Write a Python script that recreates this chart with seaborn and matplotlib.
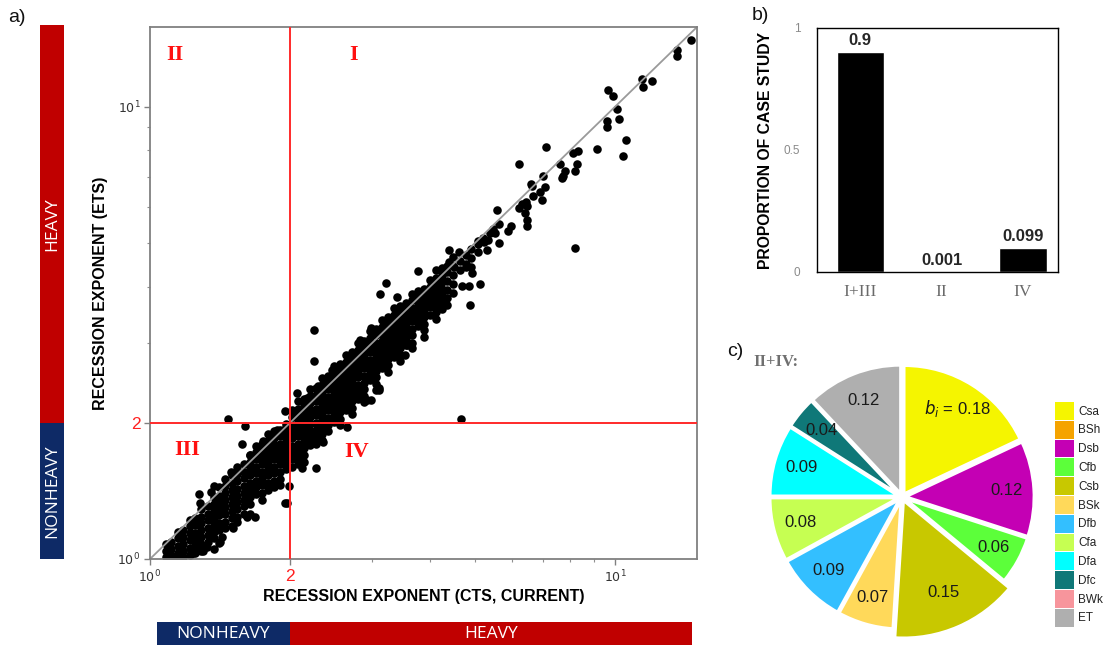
import numpy as np
import pandas as pd
import matplotlib
matplotlib.use("Agg")
import matplotlib.pyplot as plt
import seaborn as sns
from matplotlib.patches import Patch
from matplotlib.ticker import FixedLocator, NullFormatter, FixedFormatter

# ---------------- data ----------------
# dense cloud, read column by column: (CTS exponent, [ETS exponents])
band_cols = [
    (1.08, [1.08, 1.04, 1.01]),
    (1.11, [1.09, 1.05, 1.02]),
    (1.15, [1.15, 1.11, 1.07, 1.03, 1.00]),
    (1.18, [1.16, 1.12, 1.08, 1.04, 1.01]),
    (1.22, [1.22, 1.18, 1.14, 1.10, 1.06, 1.02]),
    (1.25, [1.23, 1.19, 1.14, 1.10, 1.07, 1.03]),
    (1.29, [1.29, 1.24, 1.20, 1.16, 1.12, 1.08, 1.04]),
    (1.33, [1.31, 1.26, 1.22, 1.17, 1.13, 1.09]),
    (1.37, [1.37, 1.32, 1.28, 1.23, 1.19, 1.15, 1.11]),
    (1.41, [1.44, 1.38, 1.34, 1.29, 1.25, 1.20, 1.16]),
    (1.45, [1.50, 1.45, 1.40, 1.35, 1.30, 1.26, 1.21, 1.17]),
    (1.50, [1.53, 1.47, 1.42, 1.37, 1.32, 1.28, 1.23, 1.18]),
    (1.54, [1.60, 1.54, 1.49, 1.43, 1.38, 1.34, 1.29, 1.24]),
    (1.59, [1.62, 1.56, 1.51, 1.45, 1.40, 1.35, 1.31, 1.26]),
    (1.64, [1.70, 1.64, 1.58, 1.53, 1.47, 1.42, 1.37, 1.32, 1.26]),
    (1.69, [1.78, 1.72, 1.66, 1.60, 1.55, 1.49, 1.44, 1.39]),
    (1.74, [1.80, 1.74, 1.68, 1.62, 1.56, 1.51, 1.46, 1.40, 1.35]),
    (1.79, [1.89, 1.82, 1.76, 1.70, 1.64, 1.58, 1.53, 1.47, 1.42]),
    (1.85, [1.92, 1.85, 1.79, 1.72, 1.66, 1.60, 1.55, 1.49, 1.44]),
    (1.90, [1.93, 1.87, 1.80, 1.74, 1.68, 1.62, 1.56, 1.50, 1.46]),
    (1.96, [1.99, 1.96, 1.89, 1.82, 1.76, 1.70, 1.64, 1.58]),
    (2.02, [2.13, 2.06, 1.98, 1.91, 1.85, 1.78, 1.72, 1.66, 1.60]),
    (2.08, [2.23, 2.15, 2.08, 2.01, 1.94, 1.87, 1.80, 1.74, 1.68, 1.62]),
    (2.14, [2.26, 2.18, 2.10, 2.03, 1.96, 1.89, 1.82, 1.76, 1.70, 1.64]),
    (2.21, [2.37, 2.29, 2.24, 2.21, 2.13, 2.06, 1.99, 1.92, 1.85, 1.79]),
    (2.27, [2.39, 2.31, 2.23, 2.15, 2.08, 2.00, 1.93, 1.87, 1.80]),
    (2.34, [2.51, 2.42, 2.34, 2.26, 2.18, 2.10, 2.03, 1.96, 1.89, 1.83]),
    (2.41, [2.54, 2.45, 2.37, 2.28, 2.21, 2.13, 2.05, 1.98, 1.92]),
    (2.49, [2.67, 2.58, 2.49, 2.40, 2.32, 2.24, 2.16, 2.08, 2.01]),
    (2.56, [2.70, 2.61, 2.51, 2.43, 2.34, 2.26, 2.18, 2.11, 2.04, 1.98]),
    (2.64, [2.83, 2.73, 2.68, 2.64, 2.55, 2.46, 2.37, 2.29, 2.21, 2.13]),
    (2.72, [2.87, 2.77, 2.67, 2.58, 2.49, 2.40, 2.32, 2.24, 2.16, 2.09]),
    (2.80, [3.01, 2.90, 2.80, 2.70, 2.61, 2.52, 2.43, 2.34, 2.26]),
    (2.88, [3.04, 2.93, 2.83, 2.73, 2.64, 2.54, 2.45, 2.37, 2.29, 2.22]),
    (2.97, [3.19, 3.08, 3.01, 2.97, 2.87, 2.76, 2.67, 2.58, 2.49]),
    (3.06, [3.23, 3.12, 3.00, 2.90, 2.80, 2.70, 2.61, 2.52, 2.44, 2.36]),
    (3.15, [3.38, 3.26, 3.15, 3.04, 2.93, 2.83, 2.73, 2.64]),
    (3.25, [3.43, 3.31, 3.19, 3.08, 2.97, 2.87, 2.77, 2.68, 2.59]),
    (3.34, [3.59, 3.46, 3.34, 3.22, 3.11, 3.00, 2.90, 2.80]),
    (3.44, [3.63, 3.50, 3.38, 3.26, 3.15, 3.04, 2.93, 2.83, 2.74]),
    (3.55, [3.68, 3.55, 3.43, 3.30, 3.19, 3.08, 2.97]),
    (3.66, [3.86, 3.73, 3.59, 3.47, 3.35, 3.23, 3.12, 3.01, 2.92]),
    (3.77, [3.91, 3.77, 3.64, 3.51, 3.39, 3.27]),
    (3.88, [3.95, 3.81, 3.68, 3.55, 3.43, 3.31, 3.20, 3.10]),
    (4.00, [4.14, 4.00, 3.86, 3.72, 3.60, 3.47]),
    (4.12, [4.35, 4.19, 4.05, 3.91, 3.77, 3.64, 3.51, 3.40]),
    (4.24, [4.39, 4.24, 4.09, 3.95, 3.81, 3.68, 3.57]),
    (4.36, [4.44, 4.30, 4.12, 3.93, 3.78, 3.65]),
    (4.49, [4.65, 4.45, 4.25, 4.05, 3.88]),
    (4.63, [4.55, 4.35]),
    (4.77, [4.70, 4.50]),
    (4.91, [4.85, 4.62]),
    (5.06, [4.98, 4.78]),
    (5.21, [5.12]),
    (5.37, [5.25]),
]

# scattered points read individually (CTS, ETS)
outlier_points = [
    (14.58, 14.07), (13.6, 13.37), (13.6, 12.97), (11.42, 11.52), (12.02, 11.42),
    (11.5, 11.06), (9.67, 10.87), (9.89, 10.57), (10.08, 9.90), (9.60, 9.28),
    (9.60, 9.02), (10.19, 9.39), (10.58, 8.45), (10.42, 7.76), (9.15, 8.06),
    (7.10, 8.13), (6.22, 7.47), (8.11, 7.90), (8.33, 7.99), (7.62, 7.48),
    (8.28, 7.47), (8.20, 7.19), (7.81, 7.19), (7.74, 7.01), (7.70, 6.97),
    (7.00, 7.01), (7.06, 6.63), (6.90, 6.46), (6.97, 6.22), (6.61, 6.76),
    (6.64, 6.67), (6.67, 6.33), (6.43, 6.17), (6.47, 6.03), (6.32, 6.08),
    (6.40, 5.82), (6.47, 5.63), (6.45, 5.46), (6.22, 5.98), (5.58, 5.92),
    (5.64, 5.51), (5.98, 5.44), (5.88, 5.31), (5.47, 5.36), (5.52, 5.25),
    (5.62, 4.99), (5.33, 5.08), (5.30, 4.83), (5.23, 5.03), (5.07, 5.05),
    (4.89, 4.43), (4.93, 4.29), (4.39, 4.81), (4.62, 4.78), (4.77, 4.43),
    (4.50, 4.43), (4.39, 4.54), (3.76, 4.34), (5.12, 4.05), (4.69, 4.02),
    (4.85, 4.02), (4.87, 3.65), (8.21, 4.87), (4.67, 2.04),
    (3.21, 4.07), (3.13, 3.85), (3.40, 3.80), (2.25, 3.21), (2.25, 2.74),
    (2.07, 2.33), (1.95, 2.12), (1.47, 2.04), (1.60, 1.97), (1.58, 1.80),
    (1.275, 1.39), (1.35, 1.41), (1.95, 1.33), (1.97, 1.33), (1.99, 1.45),
    (2.27, 1.59), (2.12, 1.59), (2.65, 1.96), (2.55, 2.01), (2.36, 1.81),
    (2.27, 1.81), (2.98, 2.25), (3.10, 2.39), (3.54, 2.83), (3.57, 2.97),
    (1.68, 1.24), (1.415, 1.09), (1.37, 1.05), (1.30, 1.04), (1.24, 1.03),
    (1.18, 1.04), (1.75, 1.82), (2.79, 2.33), (2.93, 2.25), (3.10, 2.36),
    (1.404, 1.087), (1.325, 1.065), (1.427, 1.12), (1.51, 1.17), (1.615, 1.24),
    (1.54, 1.21), (1.10, 1.01), (1.13, 1.00), (1.16, 1.02),
    (2.46, 2.62), (2.70, 2.80), (2.30, 2.41), (2.18, 2.27), (1.875, 1.93),
    (1.64, 1.70), (1.49, 1.56), (1.37, 1.45), (1.28, 1.33), (2.98, 3.24),
    (2.83, 3.05), (3.29, 3.35), (3.54, 3.61), (3.88, 3.80),
]

bar_cats = ["I+III", "II", "IV"]
bar_vals = [0.9, 0.001, 0.099]
bar_text = ["0.9", "0.001", "0.099"]

climate = ["Csa", "BSh", "Dsb", "Cfb", "Csb", "BSk", "Dfb", "Cfa", "Dfa", "Dfc", "BWk", "ET"]
climate_share = [0.18, 0.0, 0.12, 0.06, 0.15, 0.07, 0.09, 0.08, 0.09, 0.04, 0.0, 0.12]
climate_text = [r"$b_i$ = 0.18", "", "0.12", "0.06", "0.15", "0.07", "0.09", "0.08", "0.09", "0.04", "", "0.12"]
climate_colors = ["#F5F500", "#F5A300", "#C400B4", "#5CFF3A", "#C8C800", "#FFD95A",
                  "#33BFFF", "#C6FF52", "#00FFFF", "#0F7878", "#F7959C", "#AFAFAF"]

# ---------------- style ----------------
sns.set_theme(style="white")
plt.rcParams['font.family'] = ['Liberation Sans', 'DejaVu Sans']
plt.rcParams['mathtext.fontset'] = 'dejavusans'

W, H = 1103, 647
fig = plt.figure(figsize=(W / 100, H / 100), dpi=100)
fig.patch.set_facecolor("white")

RED_STRIP = "#C00000"
NAVY = "#0E2A66"
LINE_RED = "#FF2A2A"

# ---------------- a) scatter ----------------
xs, ys = [], []
for cx, col in band_cols:
    for cy in col:
        xs.append(cx)
        ys.append(cy)
for px, py in outlier_points:
    xs.append(px)
    ys.append(py)
df = pd.DataFrame({"cts": xs, "ets": ys})

ax = fig.add_axes([150 / W, 1 - 559 / H, 547 / W, 532 / H])
ax.set_xscale("log")
ax.set_yscale("log")
sns.scatterplot(data=df, x="cts", y="ets", color="black", s=38, linewidth=0,
                ax=ax, zorder=2, legend=False)
ax.axline((1, 1), (10, 10), color="#9a9a9a", lw=1.3, zorder=2.5)
ax.axvline(2, color=LINE_RED, lw=1.4, zorder=3)
ax.axhline(2, color=LINE_RED, lw=1.4, zorder=3)
ax.set_xlim(1, 15)
ax.set_ylim(1, 15)

for axis in (ax.xaxis, ax.yaxis):
    axis.set_major_locator(FixedLocator([1, 2, 10]))
    axis.set_major_formatter(FixedFormatter([r"$10^0$", "2", r"$10^1$"]))
    axis.set_minor_locator(FixedLocator([3, 4, 5, 6, 7, 8, 9]))
    axis.set_minor_formatter(NullFormatter())
ax.tick_params(which="major", length=4, width=1, color="#808080", labelsize=9,
               labelcolor="#333333", pad=3, direction="out", bottom=True, left=True)
ax.tick_params(which="minor", length=2.5, width=0.8, color="#909090", direction="out",
               bottom=True, left=True)
for lab in ax.get_xticklabels() + ax.get_yticklabels():
    if lab.get_text() == "2":
        lab.set_color("#FF2020")
        lab.set_fontsize(12.5)
for s in ax.spines.values():
    s.set_color("#808080")
    s.set_linewidth(1.3)

ax.set_xlabel("RECESSION EXPONENT (CTS, CURRENT)", fontsize=11.5, fontweight="bold", color="black")
ax.set_ylabel("RECESSION EXPONENT (ETS)", fontsize=11.5, fontweight="bold", color="black")
ax.xaxis.set_label_coords(0.5, -(589 - 559) / 532)
ax.yaxis.set_label_coords(-(150 - 108) / 547, 0.5)

qfont = dict(family=["Liberation Serif", "DejaVu Serif"], fontweight="bold", fontsize=16,
             color="#FF1010", ha="center", va="center", transform=ax.transAxes)
ax.text(25 / 547, 504 / 532, "II", **qfont)
ax.text(204 / 547, 504 / 532, "I", **qfont)
ax.text(37 / 547, 109 / 532, "III", **qfont)
ax.text(207 / 547, 107 / 532, "IV", **qfont)

# left strip (shares ETS scale)
axl = fig.add_axes([40 / W, 1 - 559 / H, 24 / W, 534 / H])
axl.set_yscale("log")
lo, hi = 1.0, 15.16
axl.set_ylim(lo, hi)
axl.set_xlim(0, 1)
axl.axhspan(lo, 2, color=NAVY, lw=0)
axl.axhspan(2, hi, color=RED_STRIP, lw=0)
axl.axis("off")
sfont = dict(family=["Open Sans", "DejaVu Sans"], fontsize=12.5, color="white",
             ha="center", va="center")
axl.text(0.5, np.sqrt(lo * 2), "NONHEAVY", rotation=90, **sfont)
axl.text(0.5, np.sqrt(2 * hi), "HEAVY", rotation=90, **sfont)

# bottom strip (shares CTS scale)
axbt = fig.add_axes([157 / W, 1 - 645 / H, 535 / W, 23 / H])
axbt.set_xscale("log")
blo, bhi = 1.035, 14.7
axbt.set_xlim(blo, bhi)
axbt.set_ylim(0, 1)
axbt.axvspan(blo, 2, color=NAVY, lw=0)
axbt.axvspan(2, bhi, color=RED_STRIP, lw=0)
axbt.axis("off")
axbt.text(np.sqrt(blo * 2), 0.5, "NONHEAVY", **sfont)
axbt.text(np.sqrt(2 * bhi), 0.5, "HEAVY", **sfont)

fig.text(8 / W, 1 - 18 / H, "a)", fontsize=14, va="center", ha="left", color="#111111")

# ---------------- b) bar ----------------
axb = fig.add_axes([817 / W, 1 - 272 / H, 241 / W, 244 / H])
sns.barplot(x=bar_cats, y=bar_vals, color="black", saturation=1, width=0.58, ax=axb)
axb.set_xlim(-0.53, 2.43)
axb.set_ylim(0, 1)
axb.set_yticks([0, 0.5, 1])
axb.set_yticklabels(["0", "0.5", "1"])
axb.bar_label(axb.containers[0], labels=bar_text, padding=3, fontweight="bold", fontsize=12)
axb.tick_params(axis="y", length=0, labelsize=8.5, labelcolor="#8a8a8a", pad=12)
axb.tick_params(axis="x", length=0, pad=9)
for lab in axb.get_xticklabels():
    lab.set_family(["Liberation Serif", "DejaVu Serif"])
    lab.set_fontsize(12.5)
    lab.set_color("#6a6a6a")
for s in axb.spines.values():
    s.set_color("black")
    s.set_linewidth(1.0)
axb.set_ylabel("PROPORTION OF CASE STUDY", fontsize=11.3, fontweight="bold", color="black")
axb.yaxis.set_label_coords(-(817 - 773) / 241, 0.5)
fig.text(752 / W, 1 - 15 / H, "b)", fontsize=14, va="center", ha="left", color="#111111")

# ---------------- c) pie ----------------
axp = fig.add_axes([752 / W, 1 - 647 / H, 300 / W, 300 / H])
nz = [i for i, v in enumerate(climate_share) if v > 0]
wedges, _ = axp.pie([climate_share[i] for i in nz],
                    colors=[climate_colors[i] for i in nz],
                    startangle=90, counterclock=False, radius=0.97,
                    explode=[0.03] * len(nz),
                    wedgeprops=dict(edgecolor="white", linewidth=2))
for w, i in zip(wedges, nz):
    if climate[i] == "Csb":
        w.set_radius(1.04)
    ang = np.deg2rad((w.theta1 + w.theta2) / 2)
    cx, cy = w.center
    axp.text(cx + 0.76 * np.cos(ang), cy + 0.76 * np.sin(ang), climate_text[i],
             ha="center", va="center", fontsize=12, color="#1a1a1a")
lim = 150 / 132
axp.set_xlim(-lim, lim)
axp.set_ylim(-lim, lim)
axp.set_aspect("equal")
axp.axis("off")

handles = [Patch(facecolor=c, edgecolor="none") for c in climate_colors]
fig.legend(handles, climate, loc="upper left", bbox_to_anchor=(1055 / W, 1 - 402 / H),
           frameon=False, fontsize=8.5, handlelength=1.6, handleheight=1.95,
           labelspacing=0.08, handletextpad=0.35, borderpad=0, borderaxespad=0,
           labelcolor="#222222")

fig.text(727 / W, 1 - 352 / H, "c)", fontsize=14, va="center", ha="left", color="#111111")
fig.text(753 / W, 1 - 362 / H, "II+IV:", family=["Liberation Serif", "DejaVu Serif"],
         fontsize=12, fontweight="bold", color="#707070", va="center", ha="left")

fig.savefig("out.png", dpi=100)
